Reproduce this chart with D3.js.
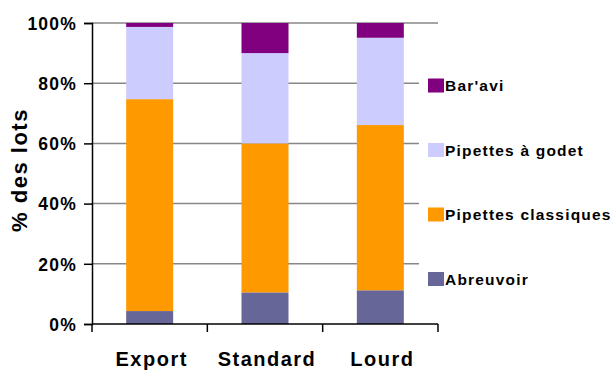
<!DOCTYPE html>
<html>
<head>
<meta charset="utf-8">
<script src="https://cdn.jsdelivr.net/npm/d3@7"></script>
<style>
  html, body { margin: 0; padding: 0; background: #fff; }
  svg { display: block; font-family: "Liberation Sans", Arial, sans-serif; font-weight: bold; }
</style>
</head>
<body>
<svg id="chart" width="616" height="370"></svg>
<script>
// Categories and stacked shares (percent of lots)
const categories = ["Export", "Standard", "Lourd"];
const seriesNames = ["Abreuvoir", "Pipettes classiques", "Pipettes à godet", "Bar'avi"];
const abreuvoir = [4.3, 10.5, 11.2];
const pipettesClassiques = [70.4, 49.5, 54.9];
const pipettesGodet = [24.0, 30.0, 29.0];
const baravi = [1.3, 10.0, 4.9];
const yTicks = [0, 20, 40, 60, 80, 100];
const colors = ["#666699", "#FF9900", "#CCCCFF", "#800080"];

const seriesValues = [abreuvoir, pipettesClassiques, pipettesGodet, baravi];
const rows = categories.map((c, i) => {
  const r = { cat: c };
  seriesNames.forEach((s, k) => { r[s] = seriesValues[k][i]; });
  return r;
});

const svg = d3.select("#chart");
const plotLeft = 92, plotRight = 438, plotTop = 23, plotBottom = 324;

const x = d3.scaleBand().domain(categories).range([plotLeft, plotRight]).paddingInner(0).paddingOuter(0);
const y = d3.scaleLinear().domain([0, 100]).range([plotBottom, plotTop]);
const color = d3.scaleOrdinal().domain(seriesNames).range(colors);

// horizontal gridlines
svg.append("g")
  .selectAll("line")
  .data(yTicks.filter(t => t > 0))
  .join("line")
  .attr("x1", plotLeft).attr("x2", plotRight)
  .attr("y1", d => y(d)).attr("y2", d => y(d))
  .attr("stroke", "#878787").attr("stroke-width", 1.5);

// stacked bars
const stacked = d3.stack().keys(seriesNames)(rows);
const barW = 47;
svg.append("g")
  .selectAll("g")
  .data(stacked)
  .join("g")
  .attr("fill", d => color(d.key))
  .selectAll("rect")
  .data(d => d)
  .join("rect")
  .attr("x", d => x(d.data.cat) + x.bandwidth() / 2 - barW / 2)
  .attr("width", barW)
  .attr("y", d => y(d[1]))
  .attr("height", d => y(d[0]) - y(d[1]));

// legend panel (white background overlapping the plot area)
const legend = svg.append("g");
legend.append("rect")
  .attr("x", 419).attr("y", 40).attr("width", 197).attr("height", 272)
  .attr("fill", "#fff");
const legendItems = seriesNames.slice().reverse();
legendItems.forEach((name, i) => {
  const cy = 85.5 + i * 64.5;
  legend.append("rect")
    .attr("x", 428).attr("y", cy - 7).attr("width", 16).attr("height", 14)
    .attr("fill", color(name));
  legend.append("text")
    .attr("x", 445).attr("y", cy + 5.5)
    .attr("font-size", 15.5).attr("letter-spacing", 1.2)
    .attr("fill", "#000")
    .text(name);
});

// y axis
const yAxis = d3.axisLeft(y)
  .tickValues(yTicks)
  .tickSize(8)
  .tickPadding(7)
  .tickFormat(d => d + "%");
const gy = svg.append("g").attr("transform", `translate(${plotLeft},0)`).call(yAxis)
  .attr("font-family", null).attr("font-size", null);
gy.select(".domain").attr("stroke", "#000").attr("stroke-width", 1.5);
gy.selectAll(".tick line").attr("stroke", "#000").attr("stroke-width", 1.5);
gy.selectAll(".tick text")
  .attr("font-size", 17.5).attr("letter-spacing", 1.2)
  .attr("fill", "#000").attr("dy", "0.36em");

// x axis with ticks at category boundaries
const boundaries = categories.map(c => x(c)).concat([plotRight]);
svg.append("line")
  .attr("x1", plotLeft).attr("x2", plotRight).attr("y1", plotBottom).attr("y2", plotBottom)
  .attr("stroke", "#000").attr("stroke-width", 1.5);
svg.append("g").selectAll("line").data(boundaries).join("line")
  .attr("x1", d => d).attr("x2", d => d).attr("y1", plotBottom).attr("y2", plotBottom + 8)
  .attr("stroke", "#000").attr("stroke-width", 1.5);
svg.append("g").selectAll("text").data(categories).join("text")
  .attr("x", d => x(d) + x.bandwidth() / 2 + 2)
  .attr("y", 366)
  .attr("text-anchor", "middle")
  .attr("font-size", 20).attr("letter-spacing", 1.5)
  .attr("fill", "#000")
  .text(d => d);

// y axis title
svg.append("text")
  .attr("transform", "translate(27,170) rotate(-90)")
  .attr("text-anchor", "middle")
  .attr("font-size", 22).attr("letter-spacing", 1.5)
  .attr("fill", "#000")
  .text("% des lots");
</script>
</body>
</html>
